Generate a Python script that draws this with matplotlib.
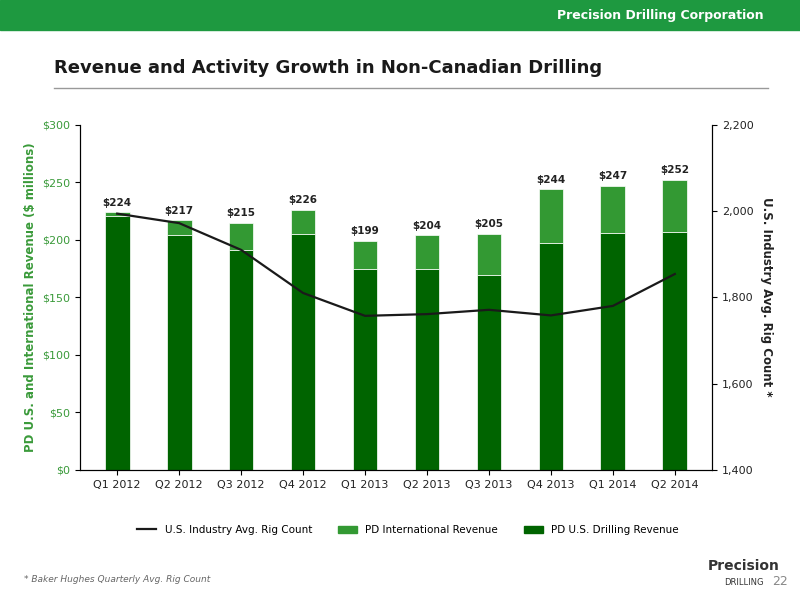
import matplotlib.pyplot as plt
import numpy as np
from matplotlib.lines import Line2D
from matplotlib.patches import Patch

quarters = ["Q1 2012", "Q2 2012", "Q3 2012", "Q4 2012", "Q1 2013",
            "Q2 2013", "Q3 2013", "Q4 2013", "Q1 2014", "Q2 2014"]
total_rev = [224, 217, 215, 226, 199, 204, 205, 244, 247, 252]
us_rev = [221, 204, 191, 205, 175, 175, 169, 197, 206, 207]
intl_rev = [t - u for t, u in zip(total_rev, us_rev)]
rig_count = [1994, 1972, 1910, 1810, 1757, 1761, 1771, 1758, 1780, 1854]

dark = "#006400"
light = "#339933"
axcol = "#3a9a3a"

fig = plt.figure(figsize=(8, 6), dpi=100)

# header band
fig.patches.append(plt.Rectangle((0, 0.95), 1, 0.05, transform=fig.transFigure,
                                 color="#1e9940", zorder=0))
fig.text(0.955, 0.975, "Precision Drilling Corporation", color="white",
         fontsize=9, fontweight="bold", ha="right", va="center")
fig.text(0.068, 0.887, "Revenue and Activity Growth in Non-Canadian Drilling",
         fontsize=13, fontweight="bold", color="#1a1a1a", va="center")
fig.add_artist(Line2D([0.068, 0.96], [0.853, 0.853], color="#999999", lw=1))

ax = fig.add_axes([0.1, 0.217, 0.79, 0.575])
x = np.arange(len(quarters))
ax.bar(x, us_rev, width=0.4, color=dark, edgecolor="white", linewidth=0.5)
ax.bar(x, intl_rev, bottom=us_rev, width=0.4, color=light, edgecolor="white", linewidth=0.5)
for xi, t in zip(x, total_rev):
    ax.text(xi, t + 4, f"${t}", ha="center", va="bottom", fontsize=7.5,
            fontweight="bold", color="#222222")
ax.set_ylim(0, 300)
ax.set_yticks(range(0, 301, 50))
ax.set_yticklabels([f"${v}" for v in range(0, 301, 50)], color=axcol, fontsize=8)
ax.set_xlim(-0.6, len(quarters) - 0.4)
ax.set_xticks(x)
ax.set_xticklabels(quarters, fontsize=8, color="#222222")
ax.set_ylabel("PD U.S. and International Revenue ($ millions)", color=axcol,
              fontsize=8.5, fontweight="bold")
ax.spines["top"].set_visible(False)

ax2 = ax.twinx()
ax2.plot(x, rig_count, color="#1a1a1a", lw=1.6)
ax2.set_ylim(1400, 2200)
ax2.set_yticks(range(1400, 2201, 200))
ax2.set_yticklabels([f"{v:,}" for v in range(1400, 2201, 200)], fontsize=8, color="#222222")
ax2.set_ylabel("U.S. Industry Avg. Rig Count *", rotation=270, labelpad=14,
               fontsize=8.5, fontweight="bold", color="#222222")
ax2.spines["top"].set_visible(False)

handles = [Line2D([0], [0], color="#1a1a1a", lw=1.6),
           Patch(color=light), Patch(color=dark)]
labels = ["U.S. Industry Avg. Rig Count", "PD International Revenue", "PD U.S. Drilling Revenue"]
fig.legend(handles, labels, loc="center", bbox_to_anchor=(0.51, 0.117), ncol=3,
           frameon=False, fontsize=7.5, handlelength=1.8, columnspacing=2.5)

fig.text(0.03, 0.03, "* Baker Hughes Quarterly Avg. Rig Count", fontsize=6.5,
         style="italic", color="#666666")
fig.text(0.93, 0.05, "Precision", fontsize=10, fontweight="bold", color="#333333", ha="center")
fig.text(0.93, 0.025, "DRILLING", fontsize=6, color="#333333", ha="center")
fig.text(0.985, 0.025, "22", fontsize=9, color="#888888", ha="right")

fig.savefig("out.png", dpi=100)
